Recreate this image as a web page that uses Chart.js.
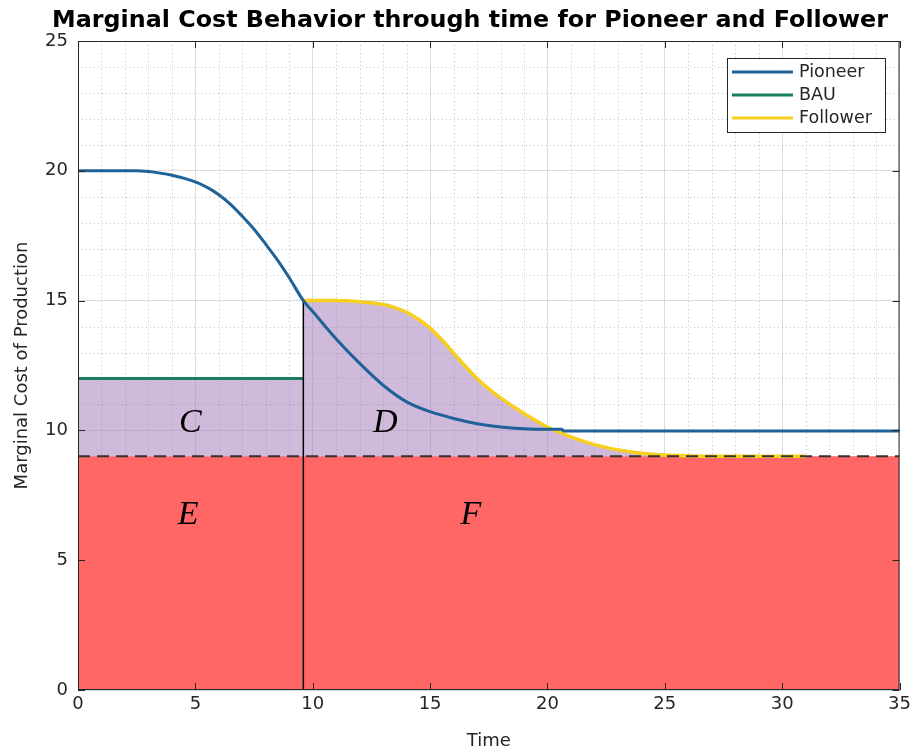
<!DOCTYPE html>
<html>
<head>
    <title>Marginal Cost Behavior</title>
    <script src="https://cdn.jsdelivr.net/npm/chart.js"></script>
    <style>
        body {
            margin: 0;
            background-color: white;
        }
    </style>
</head>
<body>
    <canvas id="mcChart" width="915" height="752"></canvas>

    <script>
        // Data
        const switchTime = 9.6;
        const baseCost = 9;

        const pioneerX = [0, 1, 2, 2.5, 3, 3.5, 4, 4.5, 5, 5.5, 6, 6.5, 7, 7.5, 8, 8.5, 9, 9.6,
            10, 11, 12, 13, 14, 15, 16, 17, 18, 19, 20, 20.6, 20.7, 25, 30, 35];
        const pioneerY = [20, 20, 20, 20, 19.97, 19.91, 19.83, 19.72, 19.57, 19.36, 19.08, 18.71, 18.25, 17.75, 17.17, 16.56, 15.88, 15.0,
            14.58, 13.52, 12.58, 11.74, 11.1, 10.72, 10.46, 10.26, 10.13, 10.06, 10.04, 10.04, 9.98, 9.98, 9.98, 9.98];

        const bauX = [0, 9.6];
        const bauY = [12, 12];

        const followerX = [9.6, 10, 11, 12, 13, 13.5, 14, 14.5, 15, 15.5, 16, 16.5, 17, 17.5, 18, 19, 20, 21, 22, 23, 24, 25, 26, 27, 31];
        const followerY = [15, 15, 15, 14.96, 14.85, 14.73, 14.55, 14.28, 13.94, 13.49, 12.98, 12.47, 12.0, 11.6, 11.25, 10.65, 10.13, 9.75, 9.45, 9.25, 9.12, 9.05, 9.02, 9.0, 9.0];

        const baseX = [0, 35];
        const baseY = [9, 9];

        const areaLabels = ['C', 'D', 'E', 'F'];
        const areaLabelX = [4.79, 13.09, 4.69, 16.74];
        const areaLabelY = [10.36, 10.36, 6.81, 6.82];

        const xTicks = [0, 5, 10, 15, 20, 25, 30, 35];
        const yTicks = [0, 5, 10, 15, 20, 25];

        const toPoints = (xs, ys) => xs.map((x, i) => ({ x: x, y: ys[i] }));

        const colors = {
            pioneer: '#1f6298',
            bau: '#1b7f5e',
            follower: '#f7cf1e',
            purple: 'rgba(160, 118, 186, 0.5)',
            red: '#ff6666',
            axis: '#262626'
        };
        const axisText = '#262626';
        const tickFont = { family: 'DejaVu Sans', size: 18 };

        const legendItems = [
            { text: 'Pioneer', color: colors.pioneer },
            { text: 'BAU', color: colors.bau },
            { text: 'Follower', color: colors.follower }
        ];

        // minor grid, box, inward ticks, title, legend and area letters
        const decorations = {
            id: 'decorations',
            beforeDatasetsDraw(chart) {
                const { ctx, chartArea: a, scales: { x, y } } = chart;
                ctx.save();
                ctx.strokeStyle = '#c0c0c0';
                ctx.lineWidth = 1;
                ctx.setLineDash([1, 3]);
                for (let v = 1; v < 35; v++) {
                    if (v % 5 === 0) continue;
                    const px = Math.round(x.getPixelForValue(v)) + 0.5;
                    ctx.beginPath();
                    ctx.moveTo(px, a.top);
                    ctx.lineTo(px, a.bottom);
                    ctx.stroke();
                }
                for (let v = 1; v < 25; v++) {
                    if (v % 5 === 0) continue;
                    const py = Math.round(y.getPixelForValue(v)) + 0.5;
                    ctx.beginPath();
                    ctx.moveTo(a.left, py);
                    ctx.lineTo(a.right, py);
                    ctx.stroke();
                }
                ctx.restore();
            },
            afterDatasetsDraw(chart) {
                const { ctx, chartArea: a, scales: { x, y } } = chart;
                ctx.save();

                // letters for the areas
                ctx.fillStyle = '#000';
                ctx.font = 'italic 34px "Liberation Serif", serif';
                ctx.textAlign = 'center';
                ctx.textBaseline = 'alphabetic';
                areaLabels.forEach((t, i) => {
                    ctx.fillText(t, x.getPixelForValue(areaLabelX[i]), y.getPixelForValue(areaLabelY[i]) + 11);
                });

                // axes box with ticks pointing in
                ctx.strokeStyle = colors.axis;
                ctx.lineWidth = 1;
                ctx.strokeRect(a.left + 0.5, a.top + 0.5, a.right - a.left - 1, a.bottom - a.top - 1);
                ctx.beginPath();
                xTicks.forEach(v => {
                    const px = Math.round(x.getPixelForValue(v)) + 0.5;
                    ctx.moveTo(px, a.bottom); ctx.lineTo(px, a.bottom - 7);
                    ctx.moveTo(px, a.top); ctx.lineTo(px, a.top + 7);
                });
                yTicks.forEach(v => {
                    const py = Math.round(y.getPixelForValue(v)) + 0.5;
                    ctx.moveTo(a.left, py); ctx.lineTo(a.left + 7, py);
                    ctx.moveTo(a.right, py); ctx.lineTo(a.right - 7, py);
                });
                ctx.stroke();

                // legend
                const lx = 727, ly = 58, lw = 158, lh = 74;
                ctx.fillStyle = 'white';
                ctx.fillRect(lx, ly, lw, lh);
                ctx.strokeRect(lx + 0.5, ly + 0.5, lw, lh);
                ctx.font = '17.5px "DejaVu Sans", sans-serif';
                ctx.textAlign = 'left';
                ctx.textBaseline = 'middle';
                legendItems.forEach((item, i) => {
                    const ry = ly + 14 + i * 23;
                    ctx.strokeStyle = item.color;
                    ctx.lineWidth = 3;
                    ctx.beginPath();
                    ctx.moveTo(lx + 5, ry);
                    ctx.lineTo(lx + 66, ry);
                    ctx.stroke();
                    ctx.fillStyle = axisText;
                    ctx.fillText(item.text, lx + 72, ry);
                });

                // title
                ctx.fillStyle = '#000';
                ctx.font = 'bold 23.8px "DejaVu Sans", sans-serif';
                ctx.textAlign = 'center';
                ctx.fillText('Marginal Cost Behavior through time for Pioneer and Follower', 470, 21);
                ctx.restore();
            }
        };

        const ctx = document.getElementById('mcChart').getContext('2d');
        const chart = new Chart(ctx, {
            type: 'line',
            data: {
                datasets: [
                    {
                        label: 'Base',
                        data: toPoints(baseX, baseY),
                        borderColor: '#333',
                        borderWidth: 2,
                        borderDash: [12, 7],
                        fill: false
                    },
                    {
                        label: 'Pioneer',
                        data: toPoints(pioneerX, pioneerY),
                        borderColor: colors.pioneer,
                        borderWidth: 3,
                        cubicInterpolationMode: 'monotone',
                        fill: false
                    },
                    {
                        label: 'Switch',
                        data: toPoints([switchTime, switchTime], [0, 15]),
                        borderColor: '#000',
                        borderWidth: 1.5,
                        fill: false
                    },
                    {
                        label: 'BAU',
                        data: toPoints(bauX, bauY),
                        borderColor: colors.bau,
                        borderWidth: 3,
                        backgroundColor: colors.purple,
                        fill: { value: baseCost }
                    },
                    {
                        label: 'Follower',
                        data: toPoints(followerX, followerY),
                        borderColor: colors.follower,
                        borderWidth: 3.5,
                        backgroundColor: colors.purple,
                        cubicInterpolationMode: 'monotone',
                        fill: { value: baseCost }
                    },
                    {
                        label: 'Red area',
                        data: toPoints(baseX, baseY),
                        borderWidth: 0,
                        borderColor: 'rgba(0,0,0,0)',
                        backgroundColor: colors.red,
                        fill: 'origin'
                    }
                ]
            },
            options: {
                responsive: false,
                animation: false,
                elements: { point: { radius: 0 } },
                layout: { padding: { top: 41, right: 14, left: 0, bottom: 0 } },
                plugins: {
                    legend: { display: false },
                    title: { display: false },
                    tooltip: { enabled: false }
                },
                scales: {
                    x: {
                        type: 'linear',
                        min: 0,
                        max: 35,
                        afterBuildTicks: s => { s.ticks = xTicks.map(v => ({ value: v })); },
                        afterFit: s => { s.height = 62; },
                        ticks: { font: tickFont, color: axisText, padding: 4, maxRotation: 0 },
                        grid: { color: '#dcdcdc', drawTicks: false },
                        border: { display: false },
                        title: { display: true, text: 'Time', font: tickFont, color: axisText, padding: { top: 0, bottom: 0 } }
                    },
                    y: {
                        min: 0,
                        max: 25,
                        afterBuildTicks: s => { s.ticks = yTicks.map(v => ({ value: v })); },
                        afterFit: s => { s.width = 78; },
                        ticks: { font: tickFont, color: axisText, padding: 10 },
                        grid: { color: '#dcdcdc', drawTicks: false },
                        border: { display: false },
                        title: { display: true, text: 'Marginal Cost of Production', font: tickFont, color: axisText, padding: { top: 12, bottom: 0 } }
                    }
                }
            },
            plugins: [decorations]
        });
    </script>
</body>
</html>
